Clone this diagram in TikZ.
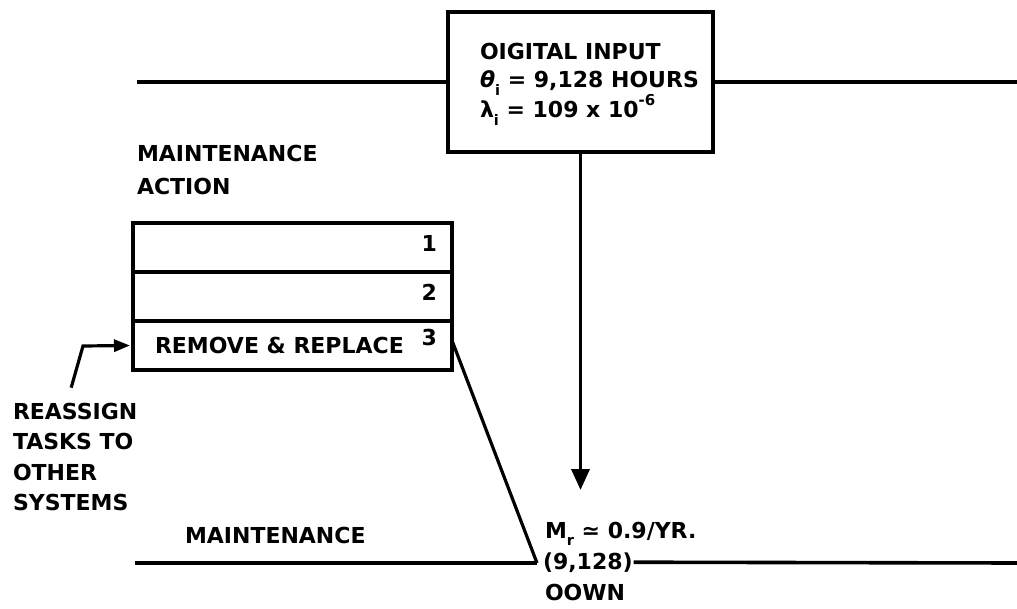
\documentclass[tikz,border=0pt]{standalone}
\usepackage{fontspec}
\setmainfont{DejaVu Sans}
\usetikzlibrary{arrows.meta,positioning}

\newcommand{\lowsub}[1]{\raisebox{-0.6ex}{\fontsize{14.5}{14.5}\selectfont #1}}
\newcommand{\highsup}[1]{\raisebox{1.0ex}{\fontsize{15}{15}\selectfont #1}}

\begin{document}
\begin{tikzpicture}[x=1pt, y=-1pt,
	heavy/.style={line width=3.6pt},
	slant/.style={line width=3.2pt},
	lbl/.style={font=\fontsize{22}{26}\selectfont\bfseries, inner sep=0pt, outer sep=0pt},
	rowbox/.style={draw, line width=3.6pt, minimum width=319pt, minimum height=49pt, inner sep=0pt, outer sep=0pt}]
	\useasboundingbox (0,0) rectangle (1017,609);
	% input box on the top line
	\node[draw, heavy, minimum width=265pt, minimum height=140pt, outer sep=0pt, anchor=north west] (digital) at (448,12) {};
	\node[lbl, anchor=base west] (dig1) at (480,60) {OIGITAL INPUT};
	\node[lbl, anchor=base west] (dig2) at (480,88) {\textit{θ}\lowsub{i} = 9,128 HOURS};
	\node[lbl, anchor=base west] (dig3) at (480,118) {λ\lowsub{i} = 109 x 10\highsup{-6}};
	\coordinate (topleft) at (137,82);
	\coordinate (topright) at (1017,82);
	\draw[heavy] (topleft) -- (digital.west);
	\draw[heavy] (digital.east) -- (topright);

	% maintenance action table
	\node[lbl, anchor=base west] (mact1) at (137,162) {MAINTENANCE};
	\node[lbl, anchor=base west] (mact2) at (137,195) {ACTION};
	\node[rowbox, anchor=north west] (row1) at (133,223) {};
	\node[rowbox, below=0pt of row1] (row2) {};
	\node[rowbox, below=0pt of row2] (row3) {};
	\node[lbl, anchor=north east] (num1) at ([xshift=-15pt,yshift=-12pt]row1.north east) {1};
	\node[lbl, anchor=north east] (num2) at ([xshift=-15pt,yshift=-12pt]row2.north east) {2};
	\node[lbl, anchor=north east] (num3) at ([xshift=-15pt,yshift=-8pt]row3.north east) {3};
	\node[lbl, anchor=west] (remove) at ([xshift=22pt]row3.west) {REMOVE \& REPLACE};

	% reassign arrow
	\foreach \txt [count=\k] in {REASSIGN, TASKS TO, OTHER, SYSTEMS}
		\node[lbl, anchor=base west] (reassign\k) at (13, 388.5+30.5*\k) {\txt};
	\coordinate (bend) at (83,346);
	\draw[slant, -{Triangle[length=16pt,width=12pt]}] ([xshift=-4pt,yshift=15pt]reassign1.north) -- (bend) -- ([xshift=-3pt]row3.west);

	% output and down time
	\coordinate (arrtip) at (digital.south |- 0,490);
	\draw[heavy, -{Triangle[length=21pt,width=18pt]}] (digital.south) -- (arrtip);
	\node[lbl, anchor=base west] (rate) at (545,538) {M\lowsub{r} ≃ 0.9/YR.};
	\node[lbl, anchor=base west] (hours) at (543,569) {(9,128)};
	\node[lbl, anchor=base west] (down) at (545,600) {OOWN};
	\node[lbl, anchor=base west] (maint) at (185,543) {MAINTENANCE};
	\coordinate (vtx) at (537,563);
	\coordinate (botleft) at (135,563);
	\coordinate (botright) at (1017,563);
	\draw[slant] ([yshift=5pt]row3.east) -- (vtx);
	\draw[heavy] (botleft) -- (vtx);
	\draw[heavy] ([xshift=1pt]hours.east) -- (botright);
\end{tikzpicture}
\end{document}
